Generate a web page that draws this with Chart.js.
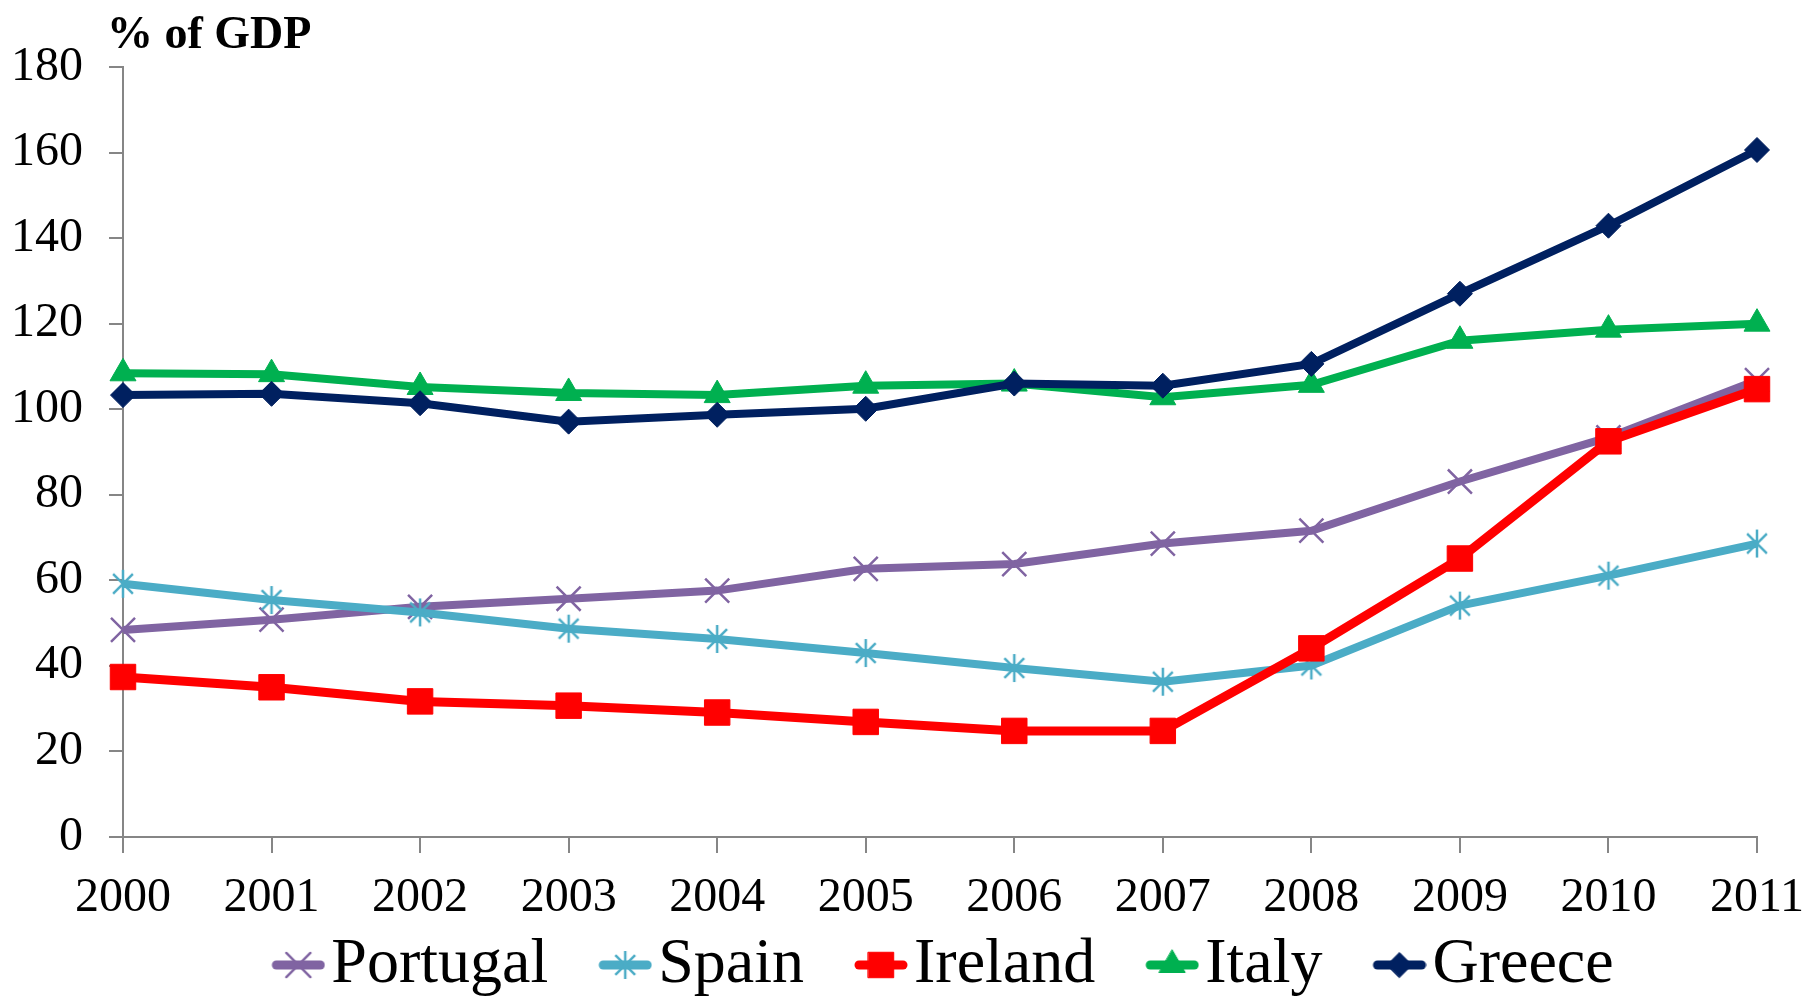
<!DOCTYPE html>
<html>
<head>
<meta charset="utf-8">
<script src="https://cdn.jsdelivr.net/npm/chart.js@4.4.0/dist/chart.umd.min.js"></script>
<style>
    html, body { margin: 0; padding: 0; background: #fff; }
    #wrap { width: 1806px; height: 997px; }
</style>
</head>
<body>
<div id="wrap"><canvas id="debtChart" width="1806" height="997"></canvas></div>
<script>
// Government debt, % of GDP
const years = ['2000', '2001', '2002', '2003', '2004', '2005', '2006', '2007', '2008', '2009', '2010', '2011'];
const portugal = [48.4, 50.8, 53.8, 55.7, 57.6, 62.7, 63.8, 68.6, 71.6, 83.1, 93.4, 106.8];
const spain = [59.2, 55.4, 52.5, 48.7, 46.3, 43.0, 39.5, 36.3, 40.1, 54.1, 61.1, 68.6];
const ireland = [37.4, 35.0, 31.7, 30.7, 29.1, 26.9, 24.8, 24.8, 44.1, 65.1, 92.5, 104.7];
const italy = [108.4, 108.2, 105.2, 103.8, 103.3, 105.5, 106.0, 102.8, 105.7, 116.0, 118.6, 120.0];
const greece = [103.3, 103.6, 101.4, 97.1, 98.7, 100.1, 106.0, 105.5, 110.6, 127.0, 142.9, 160.6];
const yTicks = [0, 20, 40, 60, 80, 100, 120, 140, 160, 180];
const unitLabel = '% of GDP';

const serif = "'Liberation Serif', 'Times New Roman', serif";
const axisGrey = '#868686';

// Excel-style asterisk marker (X + vertical stroke)
function starMarker(color, r) {
    const c = document.createElement('canvas');
    const s = Math.ceil(r * 2 + 4);
    c.width = c.height = s;
    const g = c.getContext('2d');
    const m = s / 2;
    const d = r * Math.SQRT1_2;
    g.strokeStyle = color;
    g.lineWidth = 2.5;
    g.beginPath();
    g.moveTo(m, m - r); g.lineTo(m, m + r);
    g.moveTo(m - d, m - d); g.lineTo(m + d, m + d);
    g.moveTo(m + d, m - d); g.lineTo(m - d, m + d);
    g.stroke();
    return c;
}

// legend icon: transparent left part gives the gap between items,
// the visible line + marker sits just before the label text
const iconW = 122;
const iconH = 40;
function legendIcon(ds) {
    const c = document.createElement('canvas');
    c.width = iconW;
    c.height = iconH;
    const g = c.getContext('2d');
    const cx = iconW - 27;
    const cy = iconH / 2;
    g.strokeStyle = ds.borderColor;
    g.lineWidth = 9;
    g.lineCap = 'round';
    g.beginPath();
    g.moveTo(cx - 22, cy);
    g.lineTo(cx + 22, cy);
    g.stroke();
    if (typeof ds.pointStyle === 'object') {
        g.drawImage(ds.pointStyle, cx - ds.pointStyle.width / 2, cy - ds.pointStyle.height / 2);
    } else {
        g.fillStyle = ds.pointBackgroundColor;
        g.strokeStyle = ds.pointBorderColor;
        g.lineWidth = ds.pointBorderWidth;
        Chart.helpers.drawPoint(g, {
            pointStyle: ds.pointStyle,
            radius: ds.pointRadius,
            borderWidth: ds.pointBorderWidth,
            rotation: 0
        }, cx, cy);
    }
    return c;
}

const unitTitle = {
    id: 'unitTitle',
    afterDraw(chart) {
        const ctx = chart.ctx;
        ctx.save();
        ctx.font = 'bold 46px ' + serif;
        ctx.fillStyle = '#000';
        ctx.textBaseline = 'alphabetic';
        ctx.fillText(unitLabel, chart.chartArea.left - 16, 48);
        ctx.restore();
    }
};

// Excel centres the legend under the plot area, not the whole canvas
const legendShift = {
    id: 'legendShift',
    afterLayout(chart) {
        chart.legend.left += 43;
        chart.legend.right += 43;
    }
};

function series(label, data, color, opts) {
    return Object.assign({
        label: label,
        data: data,
        borderColor: color,
        backgroundColor: color,
        pointBackgroundColor: color,
        pointBorderColor: color,
        borderWidth: 8,
        pointBorderWidth: 1,
        tension: 0,
        fill: false
    }, opts);
}

const datasets = [
    series('Portugal', portugal, '#8064A2', { pointStyle: 'crossRot', pointRadius: 17, pointBorderWidth: 2.5, order: 5 }),
    series('Spain', spain, '#4BACC6', { pointStyle: starMarker('#4BACC6', 14), pointRadius: 14, order: 4 }),
    series('Ireland', ireland, '#FF0000', { pointStyle: 'rect', pointRadius: 18, borderWidth: 9, order: 3 }),
    series('Italy', italy, '#00B050', { pointStyle: 'triangle', pointRadius: 15, order: 2 }),
    series('Greece', greece, '#002060', { pointStyle: 'rectRot', pointRadius: 12.5, order: 1 })
];

new Chart(document.getElementById('debtChart'), {
    type: 'line',
    data: { labels: years, datasets: datasets },
    options: {
        responsive: false,
        animation: false,
        devicePixelRatio: 1,
        events: [],
        layout: { padding: { left: 0, right: 49, top: 67, bottom: 0 } },
        plugins: {
            tooltip: { enabled: false },
            legend: {
                position: 'bottom',
                maxHeight: 72,
                labels: {
                    usePointStyle: true,
                    pointStyleWidth: 70,
                    padding: 8,
                    color: '#000',
                    font: { family: serif, size: 64 },
                    generateLabels(chart) {
                        return chart.data.datasets.map((ds, i) => ({
                            text: ds.label,
                            pointStyle: legendIcon(ds),
                            datasetIndex: i,
                            hidden: false,
                            fontColor: '#000',
                            lineWidth: 0,
                            strokeStyle: ds.borderColor,
                            fillStyle: ds.borderColor
                        }));
                    }
                }
            }
        },
        scales: {
            x: {
                offset: false,
                afterFit(scale) {
                    scale.height = 88;
                    // let the last year label run up to the canvas edge
                    scale.paddingRight = 0;
                },
                grid: { drawOnChartArea: false, drawTicks: true, tickLength: 16, color: axisGrey, lineWidth: 2 },
                border: { display: true, color: axisGrey, width: 2 },
                ticks: {
                    color: '#000',
                    font: { family: serif, size: 48 },
                    padding: 17,
                    autoSkip: false,
                    maxRotation: 0
                }
            },
            y: {
                min: yTicks[0],
                max: yTicks[yTicks.length - 1],
                afterFit(scale) { scale.width = 123; },
                grid: { drawOnChartArea: false, drawTicks: true, tickLength: 14, color: axisGrey, lineWidth: 2 },
                border: { display: true, color: axisGrey, width: 2 },
                ticks: {
                    stepSize: yTicks[1] - yTicks[0],
                    color: '#000',
                    padding: 26,
                    font: { family: serif, size: 48 }
                }
            }
        }
    },
    plugins: [unitTitle, legendShift]
});
</script>
</body>
</html>
